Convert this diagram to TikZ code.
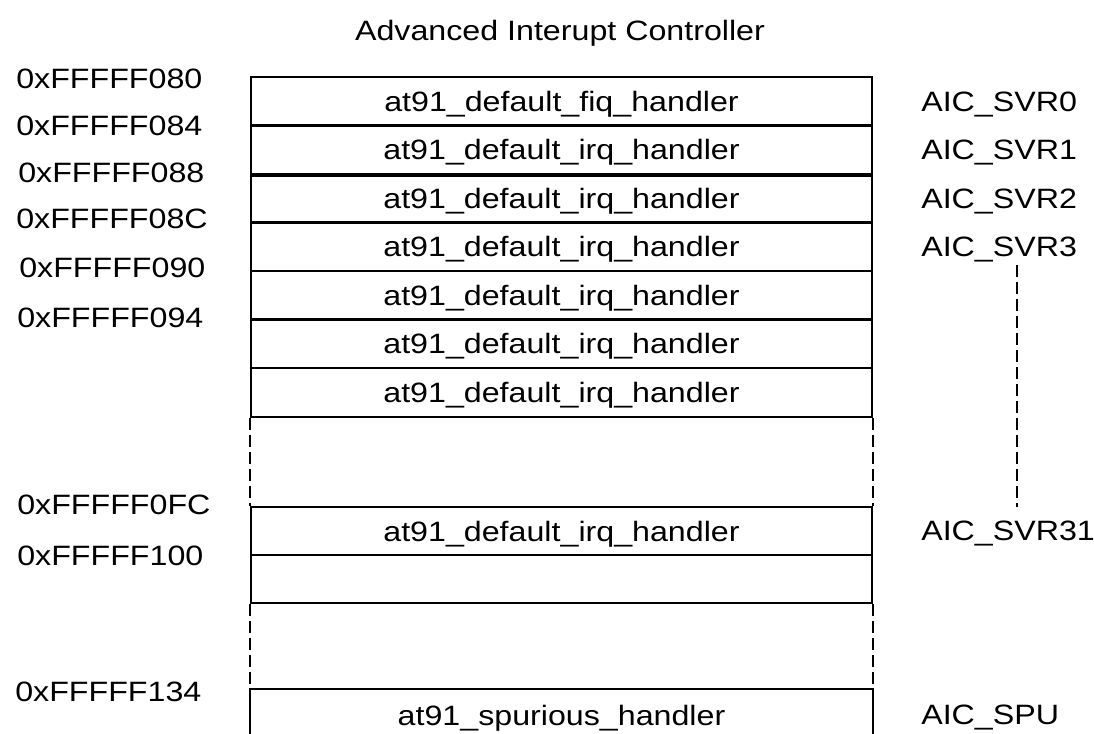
\documentclass[tikz,border=0pt]{standalone}
\usepackage{fontspec}
\setmainfont{Liberation Sans}[FakeStretch=1.15]
\usepackage{tikz}
\usetikzlibrary{positioning}

\tikzset{
  slot/.style={draw, line width=1.5, minimum width=465.75pt, minimum height=36.4pt, inner sep=0pt, text depth=0pt},
  addr/.style={anchor=west, inner sep=0pt},
  reg/.style={inner sep=0pt, text depth=0pt},
  gapline/.style={line width=1.5, dash pattern={on 9pt off 3.75pt}}
}

\begin{document}
\begin{tikzpicture}[x=0.75pt,y=0.75pt,yscale=-1,xscale=1]
  \fontsize{21}{25}\selectfont
  %set diagram size to 1094 x 734
  \useasboundingbox (0,0) rectangle (1094,734);

  % Text Node
  \node[text depth=0pt] (title) at (560,30) {Advanced Interupt Controller};

  %Shape: Rectangle rows
  \node[slot] (row0) at (561.5,101.25) {at91\_default\_fiq\_handler};
  \node[slot] (row1) at (561.5,149.75) {at91\_default\_irq\_handler};
  \node[slot] (row2) at (561.5,198.25) {at91\_default\_irq\_handler};
  \node[slot] (row3) at (561.5,246.75) {at91\_default\_irq\_handler};
  \node[slot] (row4) at (561.5,295.25) {at91\_default\_irq\_handler};
  \node[slot] (row5) at (561.5,343.75) {at91\_default\_irq\_handler};
  \node[slot] (row6) at (561.5,392.25) {at91\_default\_irq\_handler};
  \node[slot] (row31) at (561.5,531) {at91\_default\_irq\_handler};
  \node[slot] (rowfree) at (561.5,579) {};
  \node[slot, draw=none, minimum height=37.5pt] (rowspu) at (561.5,715) {at91\_spurious\_handler};
  \draw [line width=1.5] (rowspu.south west) -- (rowspu.north west) -- (rowspu.north east) -- (rowspu.south east);

  %Thick Line
  \draw [line width=3] (row1.south west) -- (row1.south east);

  %Dashed Lines
  \draw [gapline] (row6.south west) -- (row31.north west);
  \draw [gapline] (row6.south east) -- (row31.north east);
  \draw [gapline] (rowfree.south west) -- (rowspu.north west);
  \draw [gapline] (rowfree.south east) -- (rowspu.north east);

  % Text Node addresses
  \node[addr] (ad080) at (16,79) {0xFFFFF080};
  \node[addr] (ad084) at (16,126) {0xFFFFF084};
  \node[addr] (ad088) at (18,173) {0xFFFFF088};
  \node[addr] (ad08c) at (16,219) {0xFFFFF08C};
  \node[addr] (ad090) at (19,268) {0xFFFFF090};
  \node[addr] (ad094) at (17,318) {0xFFFFF094};
  \node[addr] (ad0fc) at (17,505) {0xFFFFF0FC};
  \node[addr] (ad100) at (17,556) {0xFFFFF100};
  \node[addr] (ad134) at (15,692) {0xFFFFF134};

  % Text Node registers
  \node[reg, right=36pt of row0] (aic0) {AIC\_SVR0};
  \node[reg, right=36pt of row1] (aic1) {AIC\_SVR1};
  \node[reg, right=36pt of row2] (aic2) {AIC\_SVR2};
  \node[reg, right=36pt of row3] (aic3) {AIC\_SVR3};
  \node[reg, right=36pt of row31] (aic31) {AIC\_SVR31};
  \node[reg, right=36pt of rowspu] (aicspu) {AIC\_SPU};

  %Dashed Line SVR3 to SVR31
  \coordinate (svrtop) at (1017,265);
  \coordinate (svrbot) at (1017,507);
  \draw [gapline] (svrtop) -- (svrbot);
\end{tikzpicture}
\end{document}
